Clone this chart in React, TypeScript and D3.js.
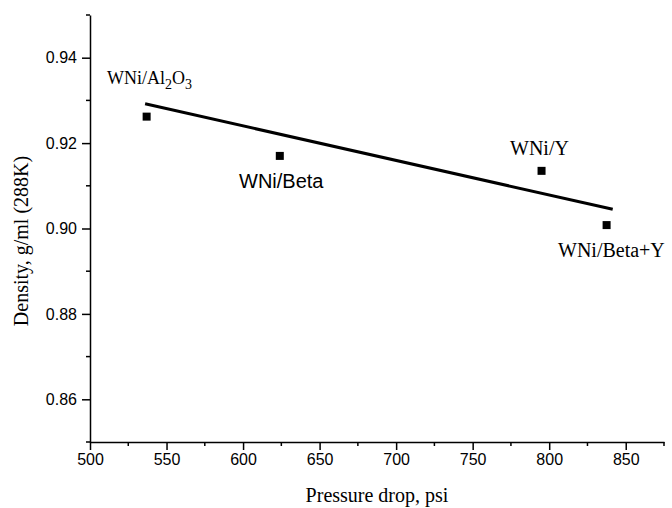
import React, { useEffect, useRef } from "react";
import * as d3 from "d3";

const width = 672;
const height = 508;

// samples: pressure drop (psi) vs density (g/ml at 288K)
const catalysts = ["WNi/Al2O3", "WNi/Beta", "WNi/Y", "WNi/Beta+Y"];
const pressureDrop = [537, 624, 795, 837.5];
const density = [0.9262, 0.917, 0.9135, 0.9008];

// linear fit line endpoints as drawn
const fitX = [536, 841.5];
const fitY = [0.9292, 0.9045];

const xTicks = [500, 550, 600, 650, 700, 750, 800, 850];
const yTicks = [0.86, 0.88, 0.9, 0.92, 0.94];

const serif = "'Liberation Serif', 'Times New Roman', serif";
const sans = "'Liberation Sans', Arial, sans-serif";

const App = () => {
  const ref = useRef<SVGSVGElement | null>(null);

  useEffect(() => {
    if (!ref.current) return;
    const svg = d3.select(ref.current);
    svg.selectAll("*").remove();

    const x = d3.scaleLinear().domain([500, 875]).range([90, 664]);
    const y = d3.scaleLinear().domain([0.85, 0.95]).range([442, 15]);

    // minor ticks
    const xMinor = d3.range(525, 876, 50);
    const yMinor = d3.range(0.85, 0.951, 0.02).map((v) => +(v).toFixed(2));

    const g = svg.append("g");

    g.selectAll(".xminor")
      .data(xMinor)
      .enter()
      .append("line")
      .attr("x1", (d) => x(d))
      .attr("x2", (d) => x(d))
      .attr("y1", y(0.85))
      .attr("y2", y(0.85) + 4)
      .attr("stroke", "#000")
      .attr("stroke-width", 1.5);

    g.selectAll(".yminor")
      .data(yMinor)
      .enter()
      .append("line")
      .attr("x1", x(500) - 4)
      .attr("x2", x(500))
      .attr("y1", (d) => y(d))
      .attr("y2", (d) => y(d))
      .attr("stroke", "#000")
      .attr("stroke-width", 1.5);

    const xAxis = g
      .append("g")
      .attr("transform", `translate(0,${y(0.85)})`)
      .call(d3.axisBottom(x).tickValues(xTicks).tickSize(8).tickSizeOuter(0).tickPadding(4));

    const yAxis = g
      .append("g")
      .attr("transform", `translate(${x(500)},0)`)
      .call(
        d3.axisLeft(y).tickValues(yTicks).tickSize(8).tickSizeOuter(0).tickPadding(5).tickFormat(d3.format(".2f"))
      );

    [xAxis, yAxis].forEach((a) => {
      a.selectAll("path, line").attr("stroke", "#000").attr("stroke-width", 1.5);
      a.selectAll("text").attr("font-family", sans).attr("font-size", 16).attr("fill", "#000");
    });

    // fit line
    const line = d3
      .line<number>()
      .x((d) => x(d))
      .y((_, i) => y(fitY[i]));
    g.append("path")
      .attr("d", line(fitX))
      .attr("fill", "none")
      .attr("stroke", "#000")
      .attr("stroke-width", 3);

    // markers
    const s = 8;
    g.selectAll(".pt")
      .data(catalysts)
      .enter()
      .append("rect")
      .attr("x", (_, i) => x(pressureDrop[i]) - s / 2)
      .attr("y", (_, i) => y(density[i]) - s / 2)
      .attr("width", s)
      .attr("height", s)
      .attr("fill", "#000");

    // point labels
    const t1 = g
      .append("text")
      .attr("x", 107)
      .attr("y", 84)
      .attr("font-family", serif)
      .attr("font-size", 18);
    t1.append("tspan").text("WNi/Al");
    t1.append("tspan").attr("font-size", 14).attr("dy", 5).text("2");
    t1.append("tspan").attr("dy", -5).text("O");
    t1.append("tspan").attr("font-size", 14).attr("dy", 5).text("3");

    g.append("text")
      .attr("x", 239)
      .attr("y", 188)
      .attr("font-family", sans)
      .attr("font-size", 20)
      .text(catalysts[1]);

    g.append("text")
      .attr("x", 510)
      .attr("y", 155)
      .attr("font-family", serif)
      .attr("font-size", 20)
      .text(catalysts[2]);

    g.append("text")
      .attr("x", 558)
      .attr("y", 257)
      .attr("font-family", serif)
      .attr("font-size", 20)
      .text(catalysts[3]);

    // axis titles
    g.append("text")
      .attr("x", 377)
      .attr("y", 502)
      .attr("text-anchor", "middle")
      .attr("font-family", serif)
      .attr("font-size", 20)
      .text("Pressure drop, psi");

    g.append("text")
      .attr("transform", "translate(28,241) rotate(-90)")
      .attr("text-anchor", "middle")
      .attr("font-family", serif)
      .attr("font-size", 20)
      .text("Density, g/ml (288K)");
  }, []);

  return (
    <svg
      ref={ref}
      width={width}
      height={height}
      style={{ position: "absolute", left: 0, top: 0, background: "#fff" }}
    />
  );
};

export default App;
